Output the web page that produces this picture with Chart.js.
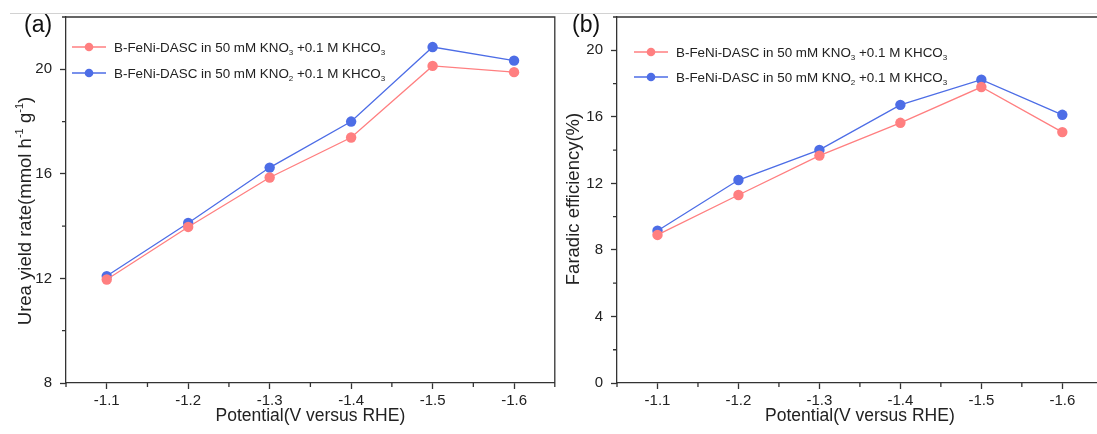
<!DOCTYPE html>
<html>
<head>
<meta charset="utf-8">
<title>Urea yield and Faradaic efficiency</title>
<script src="https://cdn.jsdelivr.net/npm/chart.js@4.4.1/dist/chart.umd.min.js"></script>
<style>
  html, body { margin: 0; padding: 0; background: #fff; overflow: hidden; }
  #wrap { position: relative; width: 1097px; height: 434px; overflow: hidden; }
  .rule { position: absolute; left: 10px; right: 0; top: 13px; height: 1px; background: #d2d2d2; }
  canvas { position: absolute; top: 0; }
  #chartA { left: 0; width: 560px; height: 434px; }
  #chartB { left: 560px; width: 548px; height: 434px; }
</style>
</head>
<body>
<div id="wrap">
  <div class="rule"></div>
  <canvas id="chartA" width="560" height="434"></canvas>
  <canvas id="chartB" width="548" height="434"></canvas>
</div>
<script>
const FONT = '"Liberation Sans", Arial, sans-serif';

const potentials = ["-1.1", "-1.2", "-1.3", "-1.4", "-1.5", "-1.6"];
const seriesNames = [
    "B-FeNi-DASC in 50 mM KNO₃ +0.1 M KHCO₃",
    "B-FeNi-DASC in 50 mM KNO₂ +0.1 M KHCO₃"
];
const seriesColors = ["#ff7f80", "#4d6de6"];

// urea yield rate, mmol h-1 g-1
const ureaNitrate = [11.96, 13.97, 15.86, 17.39, 20.13, 19.89];
const ureaNitrite = [12.09, 14.12, 16.24, 18.0, 20.85, 20.33];
const ureaTicks = [8, 12, 16, 20];
const ureaMinor = [10, 14, 18, 22];

// faradaic efficiency, %
const feNitrate = [8.9, 11.3, 13.67, 15.64, 17.79, 15.08];
const feNitrite = [9.15, 12.2, 14.01, 16.72, 18.23, 16.12];
const feTicks = [0, 4, 8, 12, 16, 20];
const feMinor = [2, 6, 10, 14, 18, 22];

Chart.defaults.font.family = FONT;
Chart.defaults.color = "#222";

// subscript / superscript digits are drawn as small raised or lowered text
const SUB = { "₂": "2", "₃": "3" };
const SUP = { "⁻": "-", "¹": "1" };

function pieces(str){
    const out = [];
    for (const ch of str){
        const kind = SUB[ch] ? "sub" : (SUP[ch] ? "sup" : "n");
        const t = SUB[ch] || SUP[ch] || ch;
        const last = out[out.length - 1];
        if (last && last.kind === kind) last.t += t;
        else out.push({ kind: kind, t: t });
    }
    return out;
}

function richWidth(ctx, str, size){
    let w = 0;
    for (const p of pieces(str)){
        ctx.font = (p.kind === "n" ? size : size * 0.6) + "px " + FONT;
        w += ctx.measureText(p.t).width;
    }
    return w;
}

function drawRich(ctx, str, x, y, size){
    let cx = x;
    ctx.textAlign = "left";
    ctx.textBaseline = "alphabetic";
    for (const p of pieces(str)){
        const s = p.kind === "n" ? size : size * 0.6;
        const dy = p.kind === "sub" ? size * 0.28 : (p.kind === "sup" ? -size * 0.42 : 0);
        ctx.font = s + "px " + FONT;
        ctx.fillText(p.t, cx, y + dy);
        cx += ctx.measureText(p.t).width;
    }
}

// frame, minor ticks, panel letter, y title and legend
const panelDecor = {
    id: "panelDecor",
    afterDraw(chart, args, opts){
        const ctx = chart.ctx;
        const a = chart.chartArea;
        const x = chart.scales.x;
        const y = chart.scales.y;
        ctx.save();

        ctx.strokeStyle = "#333";
        ctx.lineWidth = 1.3;
        ctx.beginPath();
        ctx.moveTo(a.left, a.top);
        ctx.lineTo(a.right, a.top);
        ctx.lineTo(a.right, a.bottom);
        ctx.stroke();

        ctx.beginPath();
        for (let i = -0.5; i < potentials.length; i++){
            const px = x.getPixelForValue(i);
            ctx.moveTo(px, a.bottom);
            ctx.lineTo(px, a.bottom + 4);
        }
        opts.minor.forEach(function(v){
            const py = y.getPixelForValue(v);
            ctx.moveTo(a.left, py);
            ctx.lineTo(a.left - 4, py);
        });
        ctx.stroke();

        ctx.fillStyle = "#111";
        ctx.font = "23px " + FONT;
        ctx.textAlign = "left";
        ctx.textBaseline = "alphabetic";
        ctx.fillText(opts.letter, opts.letterX, 32);

        ctx.save();
        ctx.translate(opts.titleX, opts.titleY);
        ctx.rotate(-Math.PI / 2);
        ctx.fillStyle = "#222";
        const tw = richWidth(ctx, opts.title, 18.5);
        drawRich(ctx, opts.title, -tw / 2, 6.5, 18.5);
        ctx.restore();

        chart.data.datasets.forEach(function(ds, i){
            const ly = opts.legendY + i * opts.legendGap;
            const lx = opts.legendX;
            ctx.strokeStyle = ds.borderColor;
            ctx.lineWidth = 1.3;
            ctx.beginPath();
            ctx.moveTo(lx, ly);
            ctx.lineTo(lx + 34, ly);
            ctx.stroke();
            ctx.fillStyle = ds.backgroundColor;
            ctx.beginPath();
            ctx.arc(lx + 17, ly, 4.3, 0, Math.PI * 2);
            ctx.fill();
            ctx.fillStyle = "#222";
            drawRich(ctx, ds.label, lx + 42, ly + 4.6, 13.4);
        });

        ctx.restore();
    }
};

function makeChart(id, nitrate, nitrite, yMin, yMax, ticks, decor, yWidth){
    return new Chart(document.getElementById(id), {
        type: "line",
        data: {
            labels: potentials,
            datasets: [nitrate, nitrite].map(function(values, i){
                return {
                    label: seriesNames[i],
                    data: values,
                    borderColor: seriesColors[i],
                    backgroundColor: seriesColors[i],
                    borderWidth: 1.3,
                    pointRadius: 5.2,
                    pointHoverRadius: 5.2,
                    pointBorderWidth: 0,
                    tension: 0
                };
            })
        },
        options: {
            responsive: false,
            animation: false,
            layout: { padding: { left: 0, right: 3, top: 17, bottom: 0 } },
            plugins: {
                legend: { display: false },
                tooltip: { enabled: false },
                panelDecor: decor
            },
            scales: {
                x: {
                    type: "category",
                    offset: true,
                    grid: {
                        offset: false,
                        drawOnChartArea: false,
                        tickLength: 6,
                        tickColor: "#333",
                        tickWidth: 1.3
                    },
                    border: { display: true, color: "#333", width: 1.3 },
                    ticks: { font: { size: 15 }, color: "#222", padding: 3, maxRotation: 0 },
                    title: {
                        display: true,
                        text: "Potential(V versus RHE)",
                        font: { size: 17.5 },
                        color: "#222",
                        padding: { top: 0, bottom: 7 }
                    },
                    afterFit: function(s){ s.height = 51; }
                },
                y: {
                    min: yMin,
                    max: yMax,
                    grid: {
                        drawOnChartArea: false,
                        tickLength: 6,
                        tickColor: "#333",
                        tickWidth: 1.3
                    },
                    border: { display: true, color: "#333", width: 1.3 },
                    ticks: { font: { size: 15 }, color: "#222", padding: 8 },
                    afterBuildTicks: function(s){
                        s.ticks = ticks.map(function(v){ return { value: v }; });
                    },
                    afterFit: function(s){ s.width = yWidth; }
                }
            }
        },
        plugins: [panelDecor]
    });
}

makeChart("chartA", ureaNitrate, ureaNitrite, 8, 22, ureaTicks, {
    letter: "(a)", letterX: 24,
    title: "Urea yield rate(mmol h⁻¹ g⁻¹)", titleX: 24, titleY: 211,
    legendX: 72, legendY: 47, legendGap: 26,
    minor: ureaMinor
}, 66);

makeChart("chartB", feNitrate, feNitrite, 0, 22, feTicks, {
    letter: "(b)", letterX: 12,
    title: "Faradic efficiency(%)", titleX: 12, titleY: 199,
    legendX: 74, legendY: 52, legendGap: 25,
    minor: feMinor
}, 57);
</script>
</body>
</html>
